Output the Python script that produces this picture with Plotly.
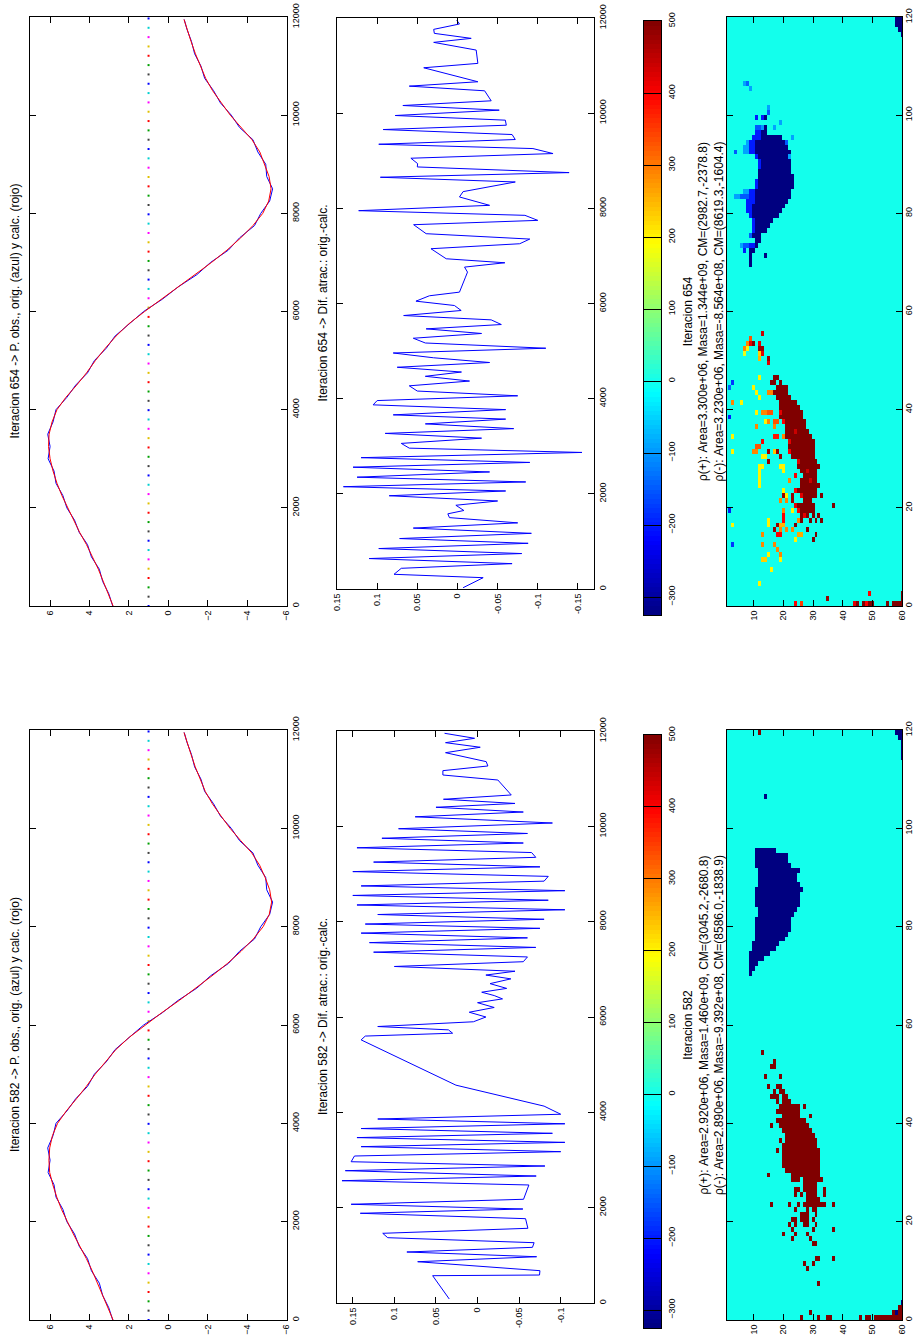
import plotly.graph_objects as go

W, H = 916, 1343
FONT = "Liberation Sans, Arial, Helvetica, sans-serif"

# ---------------- data: panel 1 (P. obs.) ----------------
X_P = [0, 250, 500, 750, 1000, 1250, 1500, 1750, 2000, 2250, 2500, 2750, 3000, 3250, 3500,
       3750, 4000, 4250, 4500, 4750, 5000, 5250, 5500, 5750, 6000, 6250, 6500, 6750, 7000,
       7250, 7500, 7750, 8000, 8250, 8500, 8750, 9000, 9250, 9500, 9750, 10000, 10250,
       10500, 10750, 11000, 11250, 11500, 11750, 11950]
OBS = [2.82, 3.02, 3.33, 3.50, 3.90, 4.10, 4.52, 4.76, 5.15, 5.35, 5.70, 5.80, 6.10, 6.00, 6.12,
       5.85, 5.70, 5.15, 4.70, 4.10, 3.75, 3.15, 2.70, 1.95, 1.25, 0.30, -0.50, -1.45, -2.15,
       -3.05, -3.62, -4.38, -4.70, -5.15, -5.30, -5.00, -4.95, -4.55, -4.30, -3.62, -3.20,
       -2.65, -2.30, -1.85, -1.66, -1.34, -1.18, -0.95, -0.81]
CALC_654 = [2.80, 3.05, 3.30, 3.55, 3.85, 4.15, 4.50, 4.80, 5.10, 5.40, 5.65, 5.85, 6.00, 6.08, 6.05,
            5.90, 5.65, 5.20, 4.65, 4.15, 3.70, 3.20, 2.65, 2.00, 1.20, 0.35, -0.55, -1.40, -2.20,
            -2.98, -3.68, -4.30, -4.80, -5.10, -5.22, -5.12, -4.90, -4.65, -4.25, -3.70, -3.15,
            -2.70, -2.25, -1.90, -1.62, -1.38, -1.16, -0.97, -0.80]
CALC_582 = [2.80, 3.06, 3.31, 3.56, 3.86, 4.16, 4.50, 4.82, 5.12, 5.42, 5.66, 5.86, 6.02, 6.06, 6.02,
            5.88, 5.62, 5.18, 4.66, 4.16, 3.71, 3.19, 2.66, 1.98, 1.18, 0.33, -0.56, -1.42, -2.22,
            -3.00, -3.70, -4.32, -4.82, -5.13, -5.25, -5.15, -4.92, -4.64, -4.24, -3.68, -3.14,
            -2.68, -2.24, -1.88, -1.62, -1.37, -1.16, -0.96, -0.80]
REF_LEVEL = 1.0

# ---------------- data: panel 2 (Dif. atrac.) ----------------
DIF654_X = [27, 238, 309, 435, 533, 640, 745, 850, 960, 1060, 1170, 1280, 1390, 1500, 1580, 1650,
            1760, 1850, 1960, 2060, 2150, 2250, 2350, 2460, 2560, 2660, 2760, 2870, 2960, 3060,
            3170, 3270, 3370, 3470, 3570, 3660, 3770, 3870, 3960, 4060, 4160, 4270, 4370, 4470,
            4560, 4660, 4760, 4860, 4960, 5060, 5170, 5270, 5370, 5467, 5558, 5656, 5747, 5853,
            5958, 6049, 6162, 6239, 6554, 6660, 6765, 6856, 6940, 7151, 7256, 7354, 7467, 7656,
            7747, 7853, 7951, 8063, 8239, 8351, 8554, 8653, 8751, 8870, 8940, 9053, 9151, 9256,
            9347, 9446, 9551, 9656, 9747, 9853, 9951, 10063, 10161, 10260, 10470, 10568, 10660,
            10954, 11046, 11326, 11488, 11572, 11677, 11761, 11874, 11958]
DIF654_Y = [-0.007, -0.032, 0.079, 0.070, -0.068, 0.110, -0.080, 0.098, -0.088, 0.072, -0.092,
            0.055, -0.075, 0.010, 0.012, -0.008, 0.002, -0.050, 0.085, -0.060, 0.142, -0.085,
            0.125, -0.040, 0.130, -0.090, 0.120, -0.155, 0.060, 0.070, -0.030, 0.090, -0.070,
            0.040, -0.060, 0.080, -0.060, 0.105, 0.100, -0.075, 0.050, 0.060, -0.015, 0.040,
            -0.005, 0.075, -0.040, 0.030, 0.080, -0.110, 0.040, 0.055, -0.030, 0.039, -0.0546,
            -0.042, 0.067, -0.0046, 0.0038, 0.0517, 0.035, -0.0025, -0.010, -0.0125, -0.0088,
            -0.059, 0.014, 0.033, -0.0775, -0.090, 0.039, 0.0546, -0.100, -0.084, 0.123, -0.040,
            -0.0025, -0.007, -0.072, 0.096, -0.139, 0.050, 0.0496, 0.058, -0.119, -0.094, 0.098,
            -0.072, -0.068, 0.0925, -0.0608, -0.0596, 0.0775, -0.052, 0.068, -0.042, -0.0338,
            0.060, -0.0254, 0.042, -0.0254, -0.0233, 0.0296, -0.0171, 0.0288, 0.0296, -0.0025,
            0.001]

DIF582_X = [84, 573, 587, 678, 866, 971, 1070, 1168, 1265, 1370, 1462, 1567, 1769, 1882, 1972,
            2071, 2176, 2476, 2566, 2664, 2776, 2874, 2964, 3084, 3175, 3280, 3370, 3470, 3560,
            3660, 3760, 3860, 3960, 4130, 4570, 5520, 5600, 5660, 5730, 5800, 5900, 6000, 6100,
            6200, 6300, 6380, 6450, 6520, 6600, 6700, 6800, 6880, 6960, 7060, 7160, 7260, 7360,
            7460, 7560, 7660, 7760, 7860, 7950, 8050, 8150, 8250, 8350, 8450, 8550, 8650, 8750,
            8850, 8950, 9050, 9150, 9250, 9350, 9450, 9550, 9650, 9750, 9850, 9950, 10070,
            10200, 10300, 10400, 10480, 10568, 10658, 10972, 11077, 11168, 11266, 11357, 11545,
            11659, 11755, 11847, 11952]
DIF582_Y = [0.034, 0.054, -0.0745, -0.075, 0.072, -0.071, 0.085, -0.066, -0.068, 0.108, 0.114,
            -0.0605, -0.0577, 0.141, -0.0545, 0.152, -0.0553, -0.0617, 0.163, -0.0705, 0.159,
            -0.081, 0.152, 0.148, -0.100, 0.140, -0.105, 0.145, -0.090, 0.140, -0.105, 0.120,
            -0.100, -0.080, 0.026, 0.140, 0.135, 0.030, 0.035, 0.120, 0.005, -0.010, 0.010,
            -0.020, 0.000, -0.030, -0.020, -0.005, -0.035, -0.015, -0.040, -0.010, -0.045, 0.100,
            -0.055, -0.060, 0.125, -0.070, 0.130, -0.060, 0.140, -0.075, 0.135, -0.080, 0.120,
            -0.105, 0.145, -0.085, 0.150, -0.105, 0.140, -0.080, -0.085, 0.150, -0.075, 0.125,
            -0.070, -0.065, 0.145, -0.055, 0.115, -0.060, 0.095, -0.090, 0.075, -0.055, 0.050,
            -0.045, 0.041, -0.0405, -0.0244, 0.0417, 0.0417, -0.0124, -0.0104, 0.0385, -0.0032,
            0.0385, 0.0036, 0.0397]

# ---------------- data: colour scale ----------------
ZMIN, ZMAX = -325, 500
CB_TICKS = [-300, -200, -100, 0, 100, 200, 300, 400, 500]
CB_LEVELS = 128

# ---------------- data: density maps (row u, first col, last col, value) ----------------
HM582_CELLS = [
    # rho(+)
    (119, 12, 12, 500),
    (54, 13, 13, 500), (52, 17, 17, 500), (51, 16, 17, 500), (49, 14, 14, 500), (49, 19, 19, 500),
    (47, 15, 15, 500), (47, 18, 19, 500), (46, 17, 17, 500), (46, 19, 20, 500), (45, 16, 18, 500),
    (45, 20, 21, 500), (44, 18, 18, 500), (44, 20, 22, 500), (43, 19, 25, 500), (43, 27, 27, 500),
    (42, 18, 25, 500), (41, 20, 25, 500), (41, 29, 29, 500), (40, 18, 27, 500), (39, 16, 16, 500),
    (39, 19, 28, 500), (38, 20, 29, 500), (37, 21, 30, 500), (36, 19, 19, 500), (36, 21, 31, 500),
    (35, 20, 31, 500), (34, 18, 18, 500), (34, 20, 32, 500), (33, 20, 32, 500), (32, 20, 32, 500),
    (31, 20, 32, 500), (30, 21, 32, 500), (29, 15, 15, 500), (29, 23, 32, 500), (28, 23, 25, 500),
    (28, 27, 33, 500), (27, 27, 31, 500), (26, 24, 25, 500), (26, 27, 31, 500), (26, 34, 34, 500),
    (25, 24, 24, 500), (25, 26, 26, 500), (25, 28, 31, 500), (25, 34, 34, 500), (24, 28, 32, 500),
    (23, 16, 16, 500), (23, 22, 22, 500), (23, 25, 25, 500), (23, 27, 34, 500), (23, 37, 37, 500),
    (22, 24, 24, 500), (22, 28, 28, 500), (22, 30, 31, 500), (21, 26, 28, 500), (21, 31, 31, 500),
    (20, 23, 24, 500), (20, 26, 28, 500), (20, 30, 30, 500), (19, 22, 22, 500), (19, 24, 24, 500),
    (19, 27, 28, 500), (19, 31, 31, 500), (18, 23, 23, 500), (18, 30, 30, 500), (18, 37, 37, 500),
    (17, 20, 20, 500), (17, 24, 24, 500), (17, 28, 28, 500), (16, 23, 23, 500), (16, 29, 29, 500),
    (15, 30, 31, 500), (12, 31, 32, 500), (12, 37, 37, 500), (11, 27, 27, 500), (11, 30, 30, 500),
    (10, 28, 28, 500), (7, 32, 32, 500), (1, 29, 29, 500),
    (0, 26, 26, 500), (0, 32, 32, 500), (0, 35, 36, 500), (0, 46, 46, 500), (0, 48, 49, 500),
    (0, 51, 60, 500), (1, 57, 57, 500), (1, 59, 60, 500), (2, 59, 60, 500),
    # rho(-)
    (1, 58, 58, -330), (3, 60, 60, -330),
    (119, 58, 60, -330), (118, 59, 60, -330), (117, 60, 60, -330), (116, 60, 60, -330),
    (115, 60, 60, -330), (114, 60, 60, -330),
    (106, 14, 14, -330),
    (95, 11, 17, -330), (94, 11, 21, -330), (93, 11, 21, -330), (92, 11, 22, -330),
    (91, 12, 25, -330), (90, 12, 24, -330), (89, 12, 24, -330), (88, 12, 25, -330),
    (87, 11, 26, -330), (86, 11, 25, -330), (85, 11, 25, -330), (84, 11, 25, -330),
    (83, 12, 24, -330), (82, 12, 23, -330), (81, 11, 22, -330), (80, 11, 22, -330),
    (79, 11, 22, -330), (78, 11, 21, -330), (77, 11, 20, -330), (76, 10, 18, -330),
    (75, 10, 17, -330), (74, 9, 15, -330), (73, 9, 13, -330), (72, 9, 11, -330),
    (71, 9, 10, -330), (70, 9, 9, -330),
]

HM654_CELLS = [
    # rho(-)
    (119, 58, 60, -330), (118, 58, 60, -330), (117, 59, 60, -330), (116, 60, 60, -330),
    (106, 7, 7, -90), (106, 8, 8, -140), (105, 9, 9, -90), (101, 15, 15, -90), (100, 15, 15, -150),
    (99, 11, 11, -200), (99, 13, 13, -200), (99, 14, 14, -330), (98, 19, 19, -90),
    (97, 11, 12, -150), (97, 13, 13, -100), (97, 14, 14, -330), (97, 17, 17, -90),
    (96, 11, 12, -200), (96, 13, 14, -330),
    (95, 10, 12, -200), (95, 13, 19, -330), (95, 23, 23, -90),
    (94, 8, 8, -90), (94, 9, 10, -200), (94, 11, 20, -330), (94, 21, 21, -150),
    (93, 7, 8, -90), (93, 9, 10, -200), (93, 11, 21, -330),
    (92, 4, 4, -150), (92, 7, 8, -90), (92, 9, 10, -200), (92, 11, 22, -330),
    (91, 11, 11, -200), (91, 12, 21, -330), (91, 22, 22, -90),
    (90, 12, 12, -200), (90, 13, 22, -330), (89, 12, 12, -200), (89, 13, 22, -330),
    (88, 12, 22, -330), (87, 12, 23, -330),
    (86, 11, 11, -200), (86, 12, 23, -330), (85, 11, 11, -200), (85, 12, 23, -330),
    (84, 7, 8, -90), (84, 9, 10, -200), (84, 11, 22, -330),
    (83, 4, 5, -90), (83, 6, 8, -150), (83, 9, 10, -200), (83, 11, 22, -330),
    (82, 8, 10, -200), (82, 11, 21, -330), (81, 8, 9, -200), (81, 10, 20, -330),
    (80, 8, 9, -200), (80, 10, 19, -330), (79, 9, 9, -200), (79, 10, 18, -330),
    (78, 10, 10, -200), (78, 11, 16, -330), (77, 10, 10, -200), (77, 11, 15, -330),
    (76, 10, 10, -200), (76, 11, 14, -330), (75, 9, 9, -150), (75, 10, 12, -330),
    (74, 11, 12, -330),
    (73, 6, 6, -90), (73, 7, 8, -150), (73, 9, 10, -200), (73, 11, 11, -330),
    (72, 7, 7, -200), (72, 9, 10, -330), (71, 9, 9, -330), (71, 14, 14, -330),
    (70, 9, 9, -330), (69, 9, 9, -330),
    # rho(+) core
    (46, 17, 18, 500), (45, 16, 17, 500), (45, 19, 19, 500), (44, 18, 21, 500), (43, 17, 21, 500),
    (42, 18, 22, 500), (41, 19, 24, 500), (40, 19, 25, 500), (39, 19, 26, 500), (38, 19, 26, 500),
    (37, 20, 27, 500), (36, 21, 27, 500), (35, 21, 28, 500), (34, 21, 29, 500), (33, 22, 30, 500),
    (32, 22, 30, 500), (31, 22, 30, 500), (30, 23, 30, 500), (29, 25, 31, 500), (28, 25, 31, 500),
    (28, 32, 32, 500), (27, 26, 31, 500), (26, 27, 31, 500), (25, 26, 31, 500), (24, 26, 32, 500),
    (23, 24, 31, 500), (22, 26, 31, 500), (22, 33, 33, 500), (21, 27, 29, 500), (20, 24, 30, 500),
    (20, 37, 37, 500), (19, 25, 30, 500), (18, 26, 28, 500), (18, 30, 30, 500), (18, 32, 32, 500),
    (17, 25, 26, 500), (17, 29, 29, 500), (17, 31, 31, 500), (17, 33, 33, 500), (16, 24, 24, 500),
    (15, 28, 28, 500), (14, 31, 31, 500), (13, 30, 30, 500),
    (39, 19, 19, 420), (37, 20, 20, 400), (35, 24, 24, 440), (33, 22, 22, 420), (31, 22, 22, 400),
    (29, 25, 25, 420), (27, 28, 28, 440), (23, 24, 24, 400), (22, 26, 26, 420), (20, 24, 24, 420),
    (19, 25, 25, 400), (18, 27, 27, 420), (25, 29, 29, 440),
    # rho(+) scattered
    (55, 13, 13, 440), (54, 9, 9, 330), (53, 8, 8, 290), (53, 9, 9, 420), (53, 10, 10, 500),
    (53, 12, 12, 420), (52, 7, 7, 290), (52, 8, 8, 200), (52, 12, 13, 480), (51, 7, 7, 170),
    (51, 12, 12, 230), (51, 13, 13, 420), (50, 12, 12, 250), (50, 15, 15, 480), (49, 15, 15, 420),
    (46, 12, 12, 200), (45, 3, 3, -180), (44, 2, 2, -140), (44, 10, 10, 200), (43, 11, 11, 200),
    (43, 15, 16, 290), (42, 12, 12, 200), (41, 3, 3, 290), (41, 6, 6, 200), (39, 11, 11, 200),
    (39, 13, 14, 290), (39, 15, 16, 330), (38, 2, 2, -200), (37, 14, 14, 200), (37, 15, 15, 290),
    (37, 17, 18, 330), (36, 11, 11, 290), (36, 17, 17, 290), (34, 3, 3, 200), (34, 17, 18, 380),
    (34, 20, 20, 290), (33, 13, 13, 400), (32, 11, 12, 330), (31, 3, 3, 200), (31, 10, 11, 290),
    (31, 15, 15, 480), (31, 17, 17, 240), (31, 18, 18, 480), (30, 13, 14, 200), (30, 19, 19, 480),
    (29, 15, 15, 480), (28, 12, 13, 200), (28, 19, 20, 200), (27, 12, 12, 200), (27, 20, 20, 200),
    (26, 12, 12, 200), (26, 24, 24, 400), (25, 12, 12, 200), (25, 22, 22, 290), (24, 12, 12, 200),
    (23, 20, 20, 200), (22, 20, 20, 480), (22, 21, 21, 200), (22, 23, 23, 480), (21, 19, 19, 290),
    (21, 21, 21, 290), (21, 23, 23, 480), (19, 2, 2, -200), (19, 20, 20, 290), (19, 23, 23, 200),
    (18, 20, 20, 400), (16, 3, 3, 200), (17, 15, 15, 200), (17, 20, 20, 400), (17, 25, 25, 290),
    (16, 15, 15, 200), (16, 18, 18, 480), (16, 19, 20, 250), (15, 17, 17, 480), (15, 19, 19, 290),
    (15, 21, 21, 290), (15, 23, 23, 290), (14, 13, 13, 290), (14, 18, 19, 400), (14, 25, 26, 260),
    (13, 24, 24, 200), (12, 3, 3, -180), (12, 13, 13, 290), (12, 17, 17, 290), (11, 18, 18, 290),
    (10, 15, 15, 200), (10, 19, 19, 290), (9, 13, 14, 230), (9, 19, 19, 200), (7, 16, 16, 200),
    (4, 12, 12, 200),
    (0, 24, 24, 400), (0, 26, 26, 350), (0, 44, 44, 420), (0, 45, 45, 500), (0, 47, 47, 500),
    (0, 48, 48, 400), (0, 49, 50, 500), (0, 55, 55, 500), (0, 57, 60, 500), (1, 35, 35, 480),
    (1, 60, 60, 500), (2, 49, 49, 400), (2, 60, 60, 500),
]

N_U, N_V = 120, 60

TITLE_P1 = "Iteracion {} -> P. obs., orig. (azul) y calc. (rojo)"
TITLE_P2 = "Iteracion {} -> Dif. atrac.: orig.-calc."
HM_TITLES = {
    654: ["Iteracion 654",
          "ρ(+): Area=3.300e+06, Masa=1.344e+09, CM=(2982.7,-2378.8)",
          "ρ(-): Area=3.230e+06, Masa=-8.564e+08, CM=(8619.3,-1604.4)"],
    582: ["Iteracion 582",
          "ρ(+): Area=2.920e+06, Masa=1.460e+09, CM=(3045.2,-2680.8)",
          "ρ(-): Area=2.890e+06, Masa=-9.392e+08, CM=(8586.0,-1838.9)"],
}

# ---------------- helpers ----------------
JET = [[0.0, "rgb(0,0,128)"], [0.125, "rgb(0,0,255)"], [0.375, "rgb(0,255,255)"],
       [0.625, "rgb(255,255,0)"], [0.875, "rgb(255,0,0)"], [1.0, "rgb(128,0,0)"]]
DOT_COLORS = ["#0000ff", "#404040", "#00a000", "#ff0000", "#e0c000", "#ff00ff", "#00d0d0"]


def build_grid(cells):
    z = [[0.0] * N_V for _ in range(N_U)]
    for u, a, b, val in cells:
        for v in range(a, b + 1):
            z[u][v - 1] = val
    return z


fig = go.Figure()
layout = dict(width=W, height=H, margin=dict(l=0, r=0, t=0, b=0), autosize=False,
              paper_bgcolor="white", plot_bgcolor="white", showlegend=False,
              font=dict(family=FONT, size=9, color="black"), template="none")

AX = dict(showline=True, linecolor="black", linewidth=1, mirror="ticks", ticks="inside",
          ticklen=6, tickcolor="black", tickwidth=1, showgrid=False, zeroline=False,
          tickangle=-90, tickfont=dict(size=9, family=FONT, color="black"), fixedrange=True)


def add_axes(idx, box, xcfg, ycfg):
    x0, x1, y0, y1 = box
    xa = dict(AX); xa.update(xcfg)
    ya = dict(AX); ya.update(ycfg)
    xa.update(domain=[x0 / W, x1 / W], anchor="y%d" % idx)
    ya.update(domain=[1 - y1 / H, 1 - y0 / H], anchor="x%d" % idx)
    layout["xaxis%d" % idx] = xa
    layout["yaxis%d" % idx] = ya
    return ("x%d" % idx, "y%d" % idx)


annotations = []


def rot_text(x, y, text, size=12):
    annotations.append(dict(x=x / W, y=1 - y / H, xref="paper", yref="paper", text=text,
                            textangle=-90, showarrow=False, xanchor="center", yanchor="middle",
                            font=dict(size=size, family=FONT, color="black")))


POS_TICKS = [0, 2000, 4000, 6000, 8000, 10000, 12000]

for it, top in ((654, 0), (582, 1)):
    base = 1 if top == 0 else 5
    if top == 0:
        b1, b2, b3, b4 = (30, 287, 17, 606), (337, 594, 18, 589), (644, 661, 21, 615), (727, 902, 17, 606)
        dif_range = [0.15, -0.17]
        calc = CALC_654
        dx, dy = DIF654_X, DIF654_Y
        cells = HM654_CELLS
    else:
        b1, b2, b3, b4 = (30, 287, 730, 1320), (337, 594, 731, 1303), (644, 661, 735, 1328), (727, 902, 730, 1320)
        dif_range = [0.169, -0.14]
        calc = CALC_582
        dx, dy = DIF582_X, DIF582_Y
        cells = HM582_CELLS

    # panel 1
    xr, yr = add_axes(base, b1,
                      dict(range=[7.02, -6.03], tickvals=[6, 4, 2, 0, -2, -4, -6]),
                      dict(range=[0, 12000], tickvals=POS_TICKS, tickformat="d", side="right"))
    dots_y = list(range(0, 12001, 190))
    fig.add_trace(go.Scatter(x=[REF_LEVEL] * len(dots_y), y=dots_y, mode="markers",
                             marker=dict(symbol="square", size=2,
                                         color=[DOT_COLORS[i % len(DOT_COLORS)] for i in range(len(dots_y))]),
                             xaxis=xr, yaxis=yr, hoverinfo="skip"))
    fig.add_trace(go.Scatter(x=OBS, y=X_P, mode="lines", line=dict(color="#0000ff", width=1),
                             xaxis=xr, yaxis=yr))
    fig.add_trace(go.Scatter(x=calc, y=X_P, mode="lines", line=dict(color="#ff0000", width=1),
                             xaxis=xr, yaxis=yr))
    rot_text(15, (b1[2] + b1[3]) / 2, TITLE_P1.format(it))

    # panel 2
    xr, yr = add_axes(base + 1, b2,
                      dict(range=dif_range, tickvals=[0.15, 0.1, 0.05, 0, -0.05, -0.1, -0.15],
                           ticktext=["0.15", "0.1", "0.05", "0", "-0.05", "-0.1", "-0.15"]),
                      dict(range=[0, 12000], tickvals=POS_TICKS, tickformat="d", side="right"))
    fig.add_trace(go.Scatter(x=dy, y=dx, mode="lines", line=dict(color="#0000ff", width=1),
                             xaxis=xr, yaxis=yr))
    rot_text(323, (b2[2] + b2[3]) / 2, TITLE_P2.format(it))

    # colour bar strip
    step = (ZMAX - ZMIN) / CB_LEVELS
    centers = [ZMIN + (i + 0.5) * step for i in range(CB_LEVELS)]
    xr, yr = add_axes(base + 2, b3,
                      dict(range=[-0.5, 0.5], showticklabels=False, ticks="", mirror=True),
                      dict(range=[ZMIN, ZMAX], tickvals=CB_TICKS, side="right", mirror=True,
                           ticklen=17, ticklabelstandoff=2))
    fig.add_trace(go.Heatmap(x=[0], y=centers, z=[[c] for c in centers], colorscale=JET,
                             zmin=ZMIN, zmax=ZMAX, showscale=False, xaxis=xr, yaxis=yr,
                             hoverinfo="skip"))

    # density map
    xr, yr = add_axes(base + 3, b4,
                      dict(range=[1, 60], tickvals=[10, 20, 30, 40, 50, 60]),
                      dict(range=[0, 120], tickvals=[0, 20, 40, 60, 80, 100, 120], side="right",
                           ticklabelstandoff=-2))
    fig.add_trace(go.Heatmap(x=list(range(1, N_V + 1)), y=[u + 0.5 for u in range(N_U)],
                             z=build_grid(cells), colorscale=JET, zmin=ZMIN, zmax=ZMAX,
                             showscale=False, xaxis=xr, yaxis=yr, hoverinfo="skip"))
    rot_text(703, (b4[2] + b4[3]) / 2, "<br>".join(HM_TITLES[it]), size=12)

layout["annotations"] = annotations
fig.update_layout(**layout)
fig.write_html("out.html", config={"displayModeBar": False},
               post_script="document.body.style.margin='0';document.body.style.padding='0';"
                           "document.documentElement.style.overflow='hidden';")
